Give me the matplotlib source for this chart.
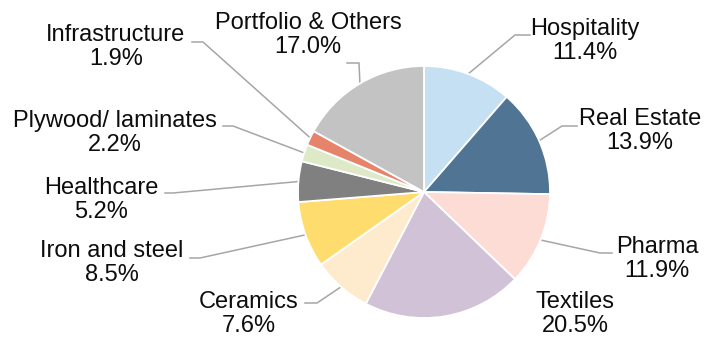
import numpy as np
import matplotlib
matplotlib.use("Agg")
import matplotlib.pyplot as plt

# sector shares (%), clockwise from 12 o'clock
sectors = ["Hospitality", "Real Estate", "Pharma", "Textiles", "Ceramics",
           "Iron and steel", "Healthcare", "Plywood/ laminates",
           "Infrastructure", "Portfolio & Others"]
shares = [11.4, 13.9, 11.9, 20.5, 7.6, 8.5, 5.2, 2.2, 1.9, 17.0]
colors = ["#C5DFF3", "#507594", "#FDDCD5", "#D1C2D8", "#FEEBCE",
          "#FFDC6E", "#808080", "#DDE9C7", "#E6846B", "#C3C3C3"]

# label placement in pixel space: text centre, leader elbow, leader end x
label_xy = [(585, 41), (640, 131), (657, 259), (575, 314), (249, 314),
            (112, 263), (101, 200), (115, 133), (116, 47), (308, 35)]
elbows = [(515, 35, 530), (562, 126, 577), (600, 253, 612), None,
          (317, 303, 305), (200, 258, 190), (173, 193, 165),
          (233, 126, 223), (203, 42, 192), (359, 63, 347)]

W, H = 704, 337
fig = plt.figure(figsize=(W / 100, H / 100), dpi=100)
ax = fig.add_axes([0, 0, 1, 1])

cx, cy, r = 424, 192, 126
wedges, _ = ax.pie(shares, colors=colors, startangle=-90, counterclock=True,
                   center=(cx, cy), radius=r,
                   wedgeprops=dict(edgecolor="white", linewidth=1.3))
ax.set_xlim(0, W)
ax.set_ylim(H, 0)
ax.set_aspect("equal")
ax.axis("off")

for w, name, val, (tx, ty), el in zip(wedges, sectors, shares, label_xy, elbows):
    ax.text(tx, ty, f"{name}\n{val:.1f}%", ha="center", va="center",
            fontsize=17, linespacing=1.17, color="#0d0d0d",
            family="Liberation Sans")
    if el is None:
        continue
    mid = np.deg2rad((w.theta1 + w.theta2) / 2)
    px = cx + r * np.cos(mid)
    py = cy + r * np.sin(mid)
    ex, ey, endx = el
    ax.plot([px, ex, endx], [py, ey, ey], color="#A6A6A6", lw=1.1,
            solid_joinstyle="miter", zorder=0)

fig.savefig("out.png", dpi=100)
